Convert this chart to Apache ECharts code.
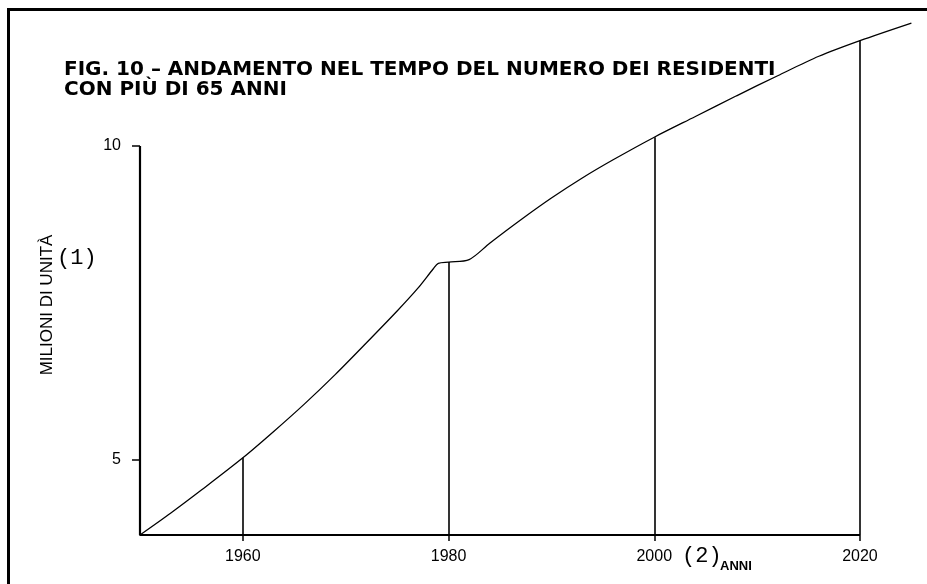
<!DOCTYPE html>
<html>
<head>
<meta charset="utf-8">
<script src="https://cdn.jsdelivr.net/npm/echarts@6/dist/echarts.min.js"></script>
<style>html,body{margin:0;padding:0;background:#fff}#c{width:927px;height:584px}</style>
</head>
<body>
<div id="c"></div>
<script>
// ---- data ----
const years  = [1950, 1953, 1956, 1960, 1963, 1966, 1969, 1972, 1975, 1977, 1978.5, 1979, 1980, 1982, 1984, 1987, 1990, 1993, 1996, 2000, 2004, 2008, 2012, 2016, 2020, 2025];
const values = [3.8, 4.15, 4.52, 5.03, 5.45, 5.89, 6.36, 6.86, 7.37, 7.73, 8.04, 8.13, 8.15, 8.19, 8.45, 8.82, 9.17, 9.49, 9.78, 10.14, 10.47, 10.8, 11.12, 11.43, 11.68, 11.96];
const dropYears = [1960, 1980, 2000, 2020];
const xTickLabels = [1960, 1980, 2000, 2020];
const yTickLabels = [5, 10];
const titleLines = ['FIG. 10 – ANDAMENTO NEL TEMPO DEL NUMERO DEI RESIDENTI', 'CON PIÙ DI 65 ANNI'];
const yName = 'MILIONI DI UNITÀ';

// drawn axis frame (data coords): y axis 3.8..10, x axis 1950..2020
const axisXStart = 1950, axisXEnd = 2020, axisYStart = 3.8, axisYEnd = 10;
// plotting extent (curve goes past the drawn axes)
const xMin = 1950, xMax = 2025, yMin = 3.8, yMax = 12;

const seriesData = years.map((y, i) => [y, values[i]]);
const axisFrame = [[axisXStart, axisYEnd], [axisXStart, axisYStart], [axisXEnd, axisYStart]];
const dropLines = dropYears.map(y => {
  const v = values[years.indexOf(y)];
  return [{coord: [y, axisYStart]}, {coord: [y, v]}];
});

const chart = echarts.init(document.getElementById('c'));
chart.setOption({
  backgroundColor: '#fff',
  animation: false,
  title: {
    text: titleLines.join('\n'),
    left: 59, top: 55,
    textStyle: {fontFamily: '"DejaVu Sans", "Liberation Sans", sans-serif', fontWeight: 'bold', fontSize: 20, lineHeight: 20, color: '#000'}
  },
  grid: {left: 140, right: 15.6, top: 20.5, bottom: 49, containLabel: false},
  xAxis: {
    type: 'value', min: xMin, max: xMax,
    axisLine: {show: false},
    axisTick: {show: true, customValues: xTickLabels, length: 6, lineStyle: {color: '#000', width: 1.5}},
    axisLabel: {customValues: xTickLabels, formatter: v => String(v), color: '#000', fontSize: 16, margin: 14, fontFamily: '"Liberation Sans", Arial, sans-serif'},
    splitLine: {show: false}
  },
  yAxis: {
    type: 'value', min: yMin, max: yMax,
    axisLine: {show: false},
    axisTick: {show: true, customValues: yTickLabels, length: 8, lineStyle: {color: '#000', width: 1.5}},
    axisLabel: {customValues: yTickLabels, formatter: v => String(v), color: '#000', fontSize: 16, margin: 19, fontFamily: '"Liberation Sans", Arial, sans-serif'},
    splitLine: {show: false}
  },
  series: [{
    type: 'line',
    data: axisFrame,
    symbol: 'none',
    silent: true,
    lineStyle: {color: '#000', width: 2.2}
  }, {
    type: 'line',
    data: seriesData,
    symbol: 'none',
    smooth: 0.3,
    lineStyle: {color: '#000', width: 1.3},
    markLine: {
      silent: true,
      symbol: 'none',
      label: {show: false},
      lineStyle: {color: '#000', width: 1.6, type: 'solid'},
      data: dropLines
    }
  }],
  graphic: [
    {type: 'rect', shape: {x: 7, y: 8, width: 930, height: 3}, style: {fill: '#000'}},
    {type: 'rect', shape: {x: 7, y: 8, width: 3, height: 590}, style: {fill: '#000'}},
    {type: 'text', x: 47, y: 305, rotation: Math.PI / 2,
      style: {text: yName, font: '17px "Liberation Sans", Arial, sans-serif', fill: '#000', align: 'center', verticalAlign: 'middle'}},
    {type: 'text', x: 57, y: 258,
      style: {text: '(1)', font: '22px "Liberation Mono", "DejaVu Sans Mono", monospace', fill: '#000', align: 'left', verticalAlign: 'middle'}},
    {type: 'text', x: 682, y: 556,
      style: {text: '(2)', font: '22px "Liberation Mono", "DejaVu Sans Mono", monospace', fill: '#000', align: 'left', verticalAlign: 'middle'}},
    {type: 'text', x: 720, y: 566,
      style: {text: 'ANNI', font: 'bold 13px "Liberation Sans", Arial, sans-serif', fill: '#000', align: 'left', verticalAlign: 'middle'}}
  ]
});
</script>
</body>
</html>
